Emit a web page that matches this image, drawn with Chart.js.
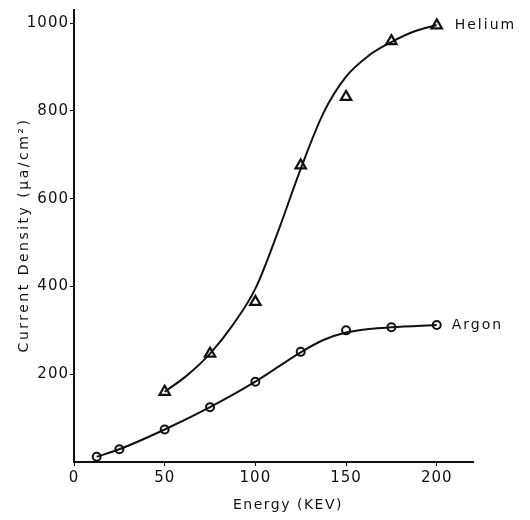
<!DOCTYPE html>
<html>
<head>
<meta charset="utf-8">
<script src="https://cdn.jsdelivr.net/npm/chart.js@4"></script>
<style>
  html, body { margin: 0; padding: 0; background: #fff; }
  #wrap { width: 530px; height: 520px; }
</style>
</head>
<body>
<div id="wrap"><canvas id="energyCanvas"></canvas></div>
<script>
// measured points
const heliumEnergy = [50, 75, 100, 125, 150, 175, 200];
const heliumDensity = [160, 247, 365, 676, 832, 959, 995];
const argonEnergy = [12.5, 25, 50, 75, 100, 125, 150, 175, 200];
const argonDensity = [12, 29, 74, 125, 183, 251, 300, 307, 312];

// fitted curves
const heliumCurveEnergy = [50, 62.5, 75, 87.5, 100, 112.5, 125, 137.5, 150, 162.5, 175, 187.5, 200];
const heliumCurveDensity = [160, 198, 247, 312, 395, 525, 668, 795, 878, 926, 957, 981, 996];
const argonCurveEnergy = [12.5, 25, 50, 75, 100, 125, 137.5, 150, 162.5, 175, 200];
const argonCurveDensity = [12, 29, 74, 125, 183, 250, 278, 295, 303, 307, 312];

const xTicks = [0, 50, 100, 150, 200];
const yTicks = [200, 400, 600, 800, 1000];
const seriesNames = ["Helium", "Argon"];
const xTitle = "Energy (KEV)";
const yTitle = "Current Density (\u03bca/cm\u00b2)";

const pts = (xs, ys) => xs.map((x, i) => ({ x: x, y: ys[i] }));
const ink = "#111";
const font = "'DejaVu Sans', sans-serif";

// spaced-out lettering like the typed original
const spacing = {
    id: "spacing",
    beforeDraw(chart) { chart.ctx.letterSpacing = "1px"; }
};

// axis titles and the "Helium" / "Argon" notes
const notes = {
    id: "notes",
    afterDatasetsDraw(chart) {
        const ctx = chart.ctx;
        const xs = chart.scales.x, ys = chart.scales.y;
        ctx.save();
        ctx.fillStyle = ink;
        ctx.textBaseline = "middle";

        ctx.font = "14px " + font;
        ctx.letterSpacing = "2px";
        ctx.textAlign = "left";
        ctx.fillText(seriesNames[0], xs.getPixelForValue(200) + 18, ys.getPixelForValue(995));
        ctx.fillText(seriesNames[1], xs.getPixelForValue(200) + 15, ys.getPixelForValue(312));

        ctx.textAlign = "center";
        ctx.letterSpacing = "1.5px";
        ctx.fillText(xTitle, 288, 505);

        ctx.letterSpacing = "2.5px";
        ctx.translate(24, 235);
        ctx.rotate(-Math.PI / 2);
        ctx.fillText(yTitle, 0, 0);
        ctx.restore();
    }
};

const energyChart = new Chart(document.getElementById("energyCanvas"), {
    type: "scatter",
    data: {
        datasets: [
            {
                label: "Helium fit",
                data: pts(heliumCurveEnergy, heliumCurveDensity),
                showLine: true,
                cubicInterpolationMode: "monotone",
                borderColor: ink,
                borderWidth: 2,
                pointRadius: 0
            },
            {
                label: "Argon fit",
                data: pts(argonCurveEnergy, argonCurveDensity),
                showLine: true,
                cubicInterpolationMode: "monotone",
                borderColor: ink,
                borderWidth: 2,
                pointRadius: 0
            },
            {
                label: "Helium",
                data: pts(heliumEnergy, heliumDensity),
                pointStyle: "triangle",
                pointRadius: 6,
                borderColor: ink,
                borderWidth: 2.2,
                backgroundColor: "#fff"
            },
            {
                label: "Argon",
                data: pts(argonEnergy, argonDensity),
                pointStyle: "circle",
                pointRadius: 4,
                borderColor: ink,
                borderWidth: 2,
                backgroundColor: "#fff"
            }
        ]
    },
    options: {
        responsive: true,
        maintainAspectRatio: false,
        animation: false,
        layout: { padding: { top: 5, right: 57, left: 0, bottom: 0 } },
        plugins: {
            legend: { display: false },
            tooltip: { enabled: false }
        },
        scales: {
            x: {
                type: "linear",
                min: 0,
                max: 220,
                afterBuildTicks: (s) => { s.ticks = xTicks.map(v => ({ value: v })); },
                afterFit: (s) => { s.height = 58; },
                border: { display: true, color: ink, width: 2 },
                grid: { drawOnChartArea: false, tickLength: 4, color: ink },
                ticks: { color: ink, font: { family: font, size: 15 }, padding: 3, maxRotation: 0,
                         callback: (v) => String(v) }
            },
            y: {
                type: "linear",
                min: 0,
                max: 1030,
                afterBuildTicks: (s) => { s.ticks = yTicks.map(v => ({ value: v })); },
                afterFit: (s) => { s.width = 74; },
                border: { display: true, color: ink, width: 2 },
                grid: { drawOnChartArea: false, tickLength: 4, color: ink },
                ticks: { color: ink, font: { family: font, size: 15 }, padding: 1,
                         callback: (v) => String(v) }
            }
        }
    },
    plugins: [spacing, notes]
});
</script>
</body>
</html>
